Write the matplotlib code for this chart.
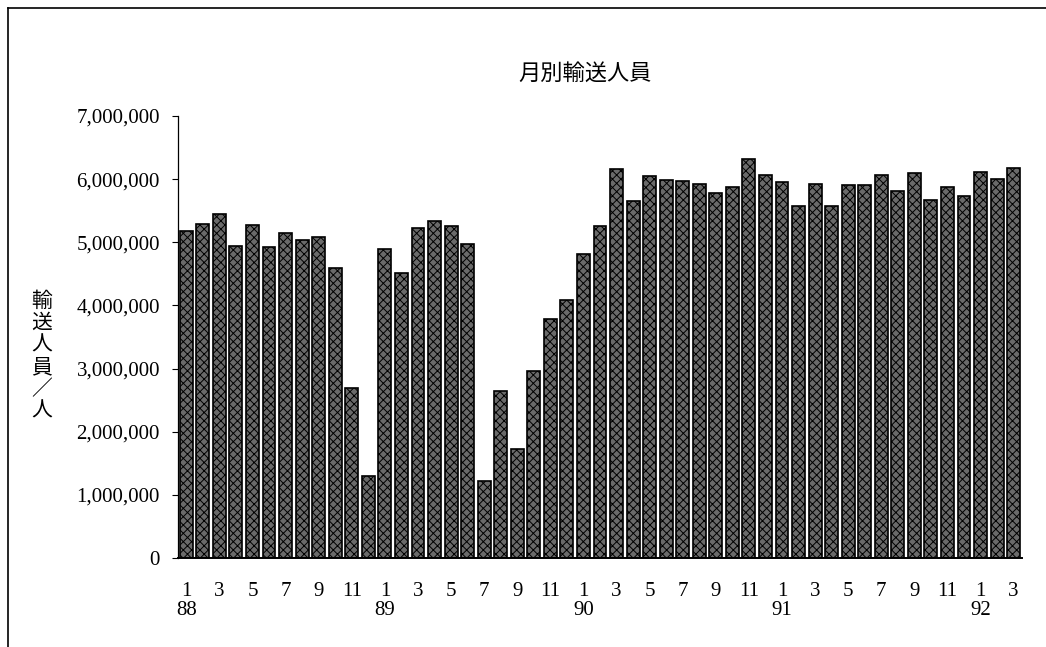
import matplotlib

matplotlib.use("Agg")
import matplotlib.pyplot as plt
from matplotlib.lines import Line2D
from matplotlib.ticker import FuncFormatter

# monthly passengers, Jan 1988 .. Mar 1992
years = [88] * 12 + [89] * 12 + [90] * 12 + [91] * 12 + [92] * 3
months = list(range(1, 13)) * 4 + [1, 2, 3]
passengers = [
    5180000, 5290000, 5450000, 4940000, 5280000, 4920000,
    5150000, 5040000, 5080000, 4600000, 2700000, 1300000,
    4890000, 4510000, 5230000, 5340000, 5250000, 4970000,
    1220000, 2650000, 1730000, 2960000, 3790000, 4090000,
    4810000, 5260000, 6160000, 5660000, 6050000, 5990000,
    5970000, 5930000, 5780000, 5870000, 6320000, 6070000,
    5960000, 5580000, 5930000, 5570000, 5910000, 5910000,
    6060000, 5820000, 6100000, 5670000, 5870000, 5740000,
    6120000, 6000000, 6170000,
]

title = "月別輸送人員"
ylabel_chars = ["輸", "送", "人", "員", "／", "人"]

serif = ["Liberation Serif", "DejaVu Serif"]
cjk = ["Noto Sans CJK JP", "DejaVu Sans"]
plt.rcParams["hatch.linewidth"] = 0.7

fig = plt.figure(figsize=(10.46, 6.47), dpi=100)
ax = fig.add_axes([0.1702, 0.1376, 0.8068, 0.6831])

x = list(range(len(passengers)))
ax.bar(x, passengers, width=0.78, facecolor="#6a6a6a", edgecolor="black",
       hatch="xxxx", linewidth=1.2)

ax.set_xlim(-0.5, len(passengers) - 0.5)
ax.set_ylim(0, 7000000)
ax.set_yticks(range(0, 7000001, 1000000))
ax.yaxis.set_major_formatter(FuncFormatter(lambda v, p: f"{int(v):,}"))

tick_pos = [i for i in x if months[i] % 2 == 1]
tick_lab = [f"{months[i]}\n{years[i]}" if months[i] == 1 else str(months[i])
            for i in tick_pos]
ax.set_xticks(tick_pos)
ax.set_xticklabels(tick_lab)

for lab in ax.get_xticklabels() + ax.get_yticklabels():
    lab.set_fontfamily(serif)
    lab.set_fontsize(15)
for lab in ax.get_xticklabels():
    lab.set_linespacing(1.0)

ax.tick_params(axis="x", length=0, pad=17)
ax.tick_params(axis="y", length=4, width=0.8, pad=9, direction="out")

for side in ("top", "right"):
    ax.spines[side].set_visible(False)
ax.spines["left"].set_linewidth(0.9)
ax.spines["bottom"].set_linewidth(1.4)

fig.text(0.559, 0.886, title, ha="center", va="center", fontsize=16,
         family=cjk)
fig.text(0.040, 0.45, "\n".join(ylabel_chars), ha="center", va="center",
         fontsize=15, family=cjk, linespacing=1.0)

# outer frame (left and top edges of the scanned box)
fig.add_artist(Line2D([0.008, 0.008], [0.0, 0.988], transform=fig.transFigure,
                      color="black", linewidth=1.2))
fig.add_artist(Line2D([0.008, 1.0], [0.988, 0.988], transform=fig.transFigure,
                      color="black", linewidth=1.2))

fig.savefig("out.png", dpi=100)
